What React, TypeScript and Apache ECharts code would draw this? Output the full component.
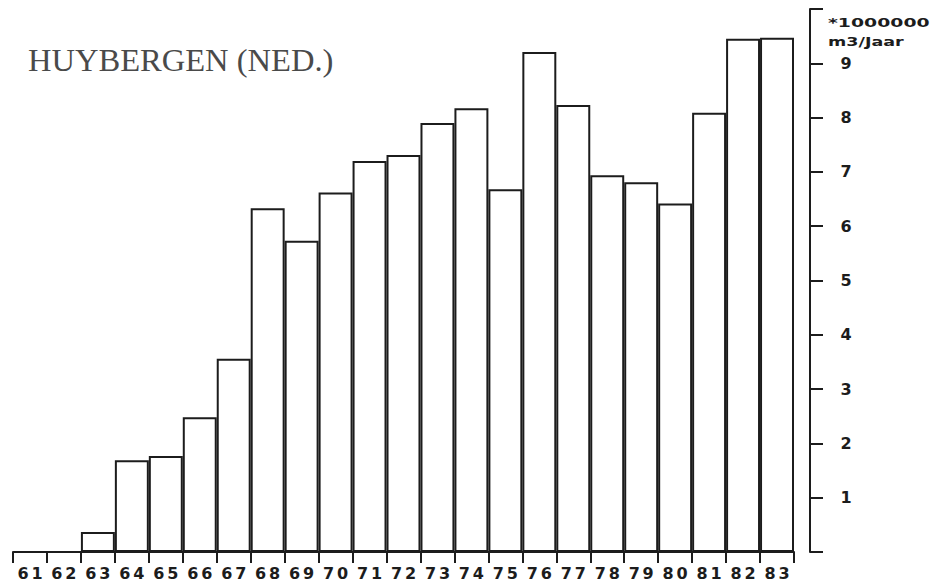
import React, { useEffect, useRef } from "react";
import * as echarts from "echarts";

const years: string[] = [
  "61", "62", "63", "64", "65", "66", "67", "68", "69", "70", "71", "72",
  "73", "74", "75", "76", "77", "78", "79", "80", "81", "82", "83",
];
const volumes: number[] = [
  0, 0, 0.37, 1.69, 1.77, 2.48, 3.56, 6.33, 5.73, 6.62, 7.2, 7.31,
  7.9, 8.17, 6.68, 9.21, 8.23, 6.94, 6.81, 6.42, 8.09, 9.45, 9.47,
];
const yTickLabels: string[] = ["", "1", "2", "3", "4", "5", "6", "7", "8", "9", ""];
const titleText = "HUYBERGEN (NED.)";
const unitLine1 = "*1000000";
const unitLine2 = "m3/Jaar";

const INK = "#1c1c1c";
const PLOT_FONT = "DejaVu Sans";

export default function App() {
  const ref = useRef<HTMLDivElement>(null);
  useEffect(() => {
    if (!ref.current) return;
    const chart = echarts.init(ref.current, undefined, { renderer: "svg" });
    chart.setOption({
      animation: false,
      backgroundColor: "#ffffff",
      grid: { left: 13, right: 145, top: 9, bottom: 30 },
      xAxis: {
        type: "category",
        data: years,
        boundaryGap: true,
        axisLine: { lineStyle: { color: INK, width: 2 } },
        axisTick: { show: true, length: 11, lineStyle: { color: INK, width: 2 } },
        axisLabel: {
          margin: 13,
          interval: 0,
          formatter: (v: string) => v.split("").map((c) => `{d|${c}}`).join(""),
          rich: {
            d: {
              width: 14,
              align: "center",
              fontSize: 16,
              fontWeight: "bold",
              fontFamily: PLOT_FONT,
              color: INK,
            },
          },
        },
        splitLine: { show: false },
      },
      yAxis: {
        type: "value",
        position: "right",
        offset: 16,
        min: 0,
        max: 10,
        interval: 1,
        axisLine: { show: true, lineStyle: { color: INK, width: 2 } },
        axisTick: { show: true, length: 13, lineStyle: { color: INK, width: 2 } },
        axisLabel: {
          margin: 36,
          align: "center",
          fontSize: 16,
          fontWeight: "bold",
          fontFamily: PLOT_FONT,
          color: INK,
          formatter: (v: number) => yTickLabels[Math.round(v)] ?? "",
        },
        splitLine: { show: false },
      },
      series: [
        {
          type: "bar",
          data: volumes,
          barCategoryGap: "0%",
          itemStyle: {
            color: "rgba(255,255,255,0)",
            borderColor: INK,
            borderWidth: 2,
          },
          silent: true,
        },
      ],
      graphic: [
        {
          type: "text",
          x: 28,
          y: 45,
          scaleX: 1.05,
          style: {
            text: titleText,
            font: "31px 'Liberation Serif'",
            fill: "#4a4a4a",
          },
        },
        {
          type: "text",
          x: 828,
          y: 16,
          scaleX: 1.45,
          style: {
            text: unitLine1,
            font: `bold 13px '${PLOT_FONT}'`,
            fill: INK,
          },
        },
        {
          type: "text",
          x: 828,
          y: 35,
          scaleX: 1.35,
          style: {
            text: unitLine2,
            font: `bold 13px '${PLOT_FONT}'`,
            fill: INK,
          },
        },
      ],
    });
    return () => chart.dispose();
  }, []);
  return (
    <div
      ref={ref}
      style={{ position: "fixed", left: 0, top: 0, width: 939, height: 582 }}
    />
  );
}
